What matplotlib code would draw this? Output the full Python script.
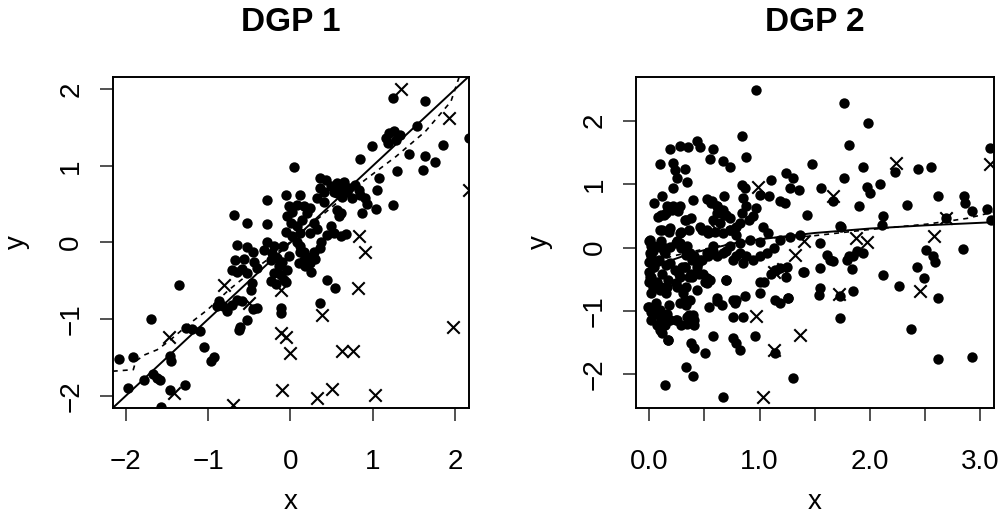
import numpy as np
import matplotlib
matplotlib.use("Agg")
import matplotlib.pyplot as plt

plt.rcParams['font.family'] = ['Liberation Sans', 'DejaVu Sans']

# ---- DGP 1 ----
dgp1_dot_x = [1.24, 1.63, 2.17, 1.54, 1.20, 1.26, 1.33, 1.16, 1.18, 1.28, 0.99, 1.85, 1.44, 1.64, 1.76,
              1.61, 0.85, 1.30, 1.08, 0.04, 0.36, 0.43, 0.49, 0.57, 0.65, 0.71, 0.79, 0.83, 0.36, 0.41,
              0.57, 0.63, 0.69, 0.75, 0.85, 0.91, 0.93, 1.05, 1.04, 1.24, -0.28, -0.05, 0.12, -0.02, 0.08,
              0.16, 0.24, 0.20, 0.32, 0.41, 0.57, 0.59, 0.61, 0.87, 0.49, -0.04, 0.01, 0.08, 0.14, -0.69,
              -0.53, -0.28, 0.45, 0.53, 0.62, 0.68, -0.06, 0.02, 0.08, 0.12, 0.16, 0.20, 0.28, 0.36, 0.37,
              -0.65, -0.53, -0.45, -0.32, -0.20, -0.09, -0.67, -0.71, -0.65, -0.59, -0.57, -0.44, -0.41, -0.53, -0.24,
              -0.16, -0.10, -0.02, -0.20, -0.12, -0.08, -0.24, -0.17, -0.06, 0.16, 0.18, 0.25, 0.30, 0.45, 0.54,
              -1.35, -0.47, -0.48, -0.87, -0.82, -0.77, -0.89, -0.71, -0.65, -0.59, -0.45, -0.41, -0.12, -0.12, 0.36,
              -1.70, -0.53, -0.61, -0.63, -1.27, -1.20, -1.10, -1.05, -0.97, -0.93, -1.46, -1.45, -1.91, -2.08, -1.67,
              -1.62, -1.58, -1.78, -1.97, -1.47, -1.28, -1.57, 0.02, 0.28, 0.32, 0.24, 0.12, -0.28, 0.10, 0.24,
              0.12, -0.22, -0.14, -0.04, 0.53, 0.61]
dgp1_dot_y = [1.88, 1.85, 1.36, 1.52, 1.43, 1.46, 1.40, 1.36, 1.30, 1.34, 1.26, 1.27, 1.15, 1.13, 1.05,
              0.95, 1.09, 0.93, 0.84, 0.99, 0.84, 0.81, 0.74, 0.77, 0.79, 0.71, 0.75, 0.69, 0.71, 0.66,
              0.64, 0.60, 0.66, 0.58, 0.62, 0.58, 0.50, 0.69, 0.44, 0.49, 0.56, 0.62, 0.62, 0.47, 0.49,
              0.47, 0.45, 0.38, 0.58, 0.53, 0.43, 0.34, 0.39, 0.38, 0.21, 0.34, 0.25, 0.21, 0.30, 0.36,
              0.26, 0.24, 0.10, 0.12, 0.09, 0.11, 0.14, 0.08, 0.01, -0.05, -0.12, -0.19, -0.12, -0.07, 0.00,
              -0.03, -0.06, -0.12, -0.10, -0.04, -0.04, -0.23, -0.36, -0.38, -0.35, -0.21, -0.25, -0.33, -0.40, -0.23,
              -0.20, -0.25, -0.18, -0.40, -0.42, -0.49, -0.50, -0.54, -0.51, -0.23, -0.31, -0.39, -0.22, -0.49, -0.59,
              -0.56, -0.53, -0.62, -0.76, -0.83, -0.90, -0.83, -0.81, -0.75, -0.77, -0.87, -0.86, -0.86, -0.92, -0.79,
              -1.00, -1.01, -1.10, -1.14, -1.12, -1.13, -1.16, -1.36, -1.55, -1.50, -1.48, -1.55, -1.50, -1.52, -1.71,
              -1.77, -1.79, -1.80, -1.90, -1.92, -1.86, -2.15, 0.40, 0.25, 0.17, 0.12, 0.12, 0.01, -0.27, -0.27,
              -0.12, -0.14, -0.31, -0.36, 0.66, 0.69]
dgp1_cross_x = [1.34, 1.93, 2.17, 0.83, 0.91, 0.82, -0.81, -0.12, -0.51, 0.38, -1.48, -0.12, -0.06, 1.97,
                0.00, 0.63, 0.76, -1.42, -0.10, 0.32, 0.51, 1.03, -0.70]
dgp1_cross_y = [2.00, 1.63, 0.69, 0.08, -0.13, -0.60, -0.56, -0.62, -0.79, -0.94, -1.24, -1.18, -1.23, -1.10,
                -1.44, -1.41, -1.41, -1.96, -1.93, -2.03, -1.91, -1.99, -2.12]
dgp1_true_x = [-2.16, 2.17]
dgp1_true_y = [-2.16, 2.17]
dgp1_fit_x = [-2.16, -1.91, -1.88, -1.78, -1.62, -1.48, -1.24, -1.01, -0.75, -0.45, -0.10, 0.30, 0.60,
              0.91, 1.28, 1.64, 1.95, 2.05]
dgp1_fit_y = [-1.68, -1.66, -1.55, -1.47, -1.40, -1.29, -1.07, -0.88, -0.62, -0.36, -0.08, 0.28, 0.55,
              0.82, 1.12, 1.45, 1.84, 2.16]

# ---- DGP 2 ----
dgp2_dot_x = [0.97, 1.77, 1.98, 0.84, 1.81, 3.09, 0.10, 0.19, 0.28, 0.35, 0.43, 0.46, 0.58, 0.55, 0.67,
              0.73, 0.88, 0.22, 0.23, 0.32, 0.25, 0.34, 0.22, 0.12, 0.04, 1.48, 1.24, 1.10, 1.30, 2.23,
              2.44, 2.55, 1.94, 1.77, 2.09, 1.97, 2.00, 1.56, 1.67, 0.84, 0.87, 1.00, 1.09, 1.28, 1.36,
              2.85, 2.86, 2.62, 2.34, 1.90, 1.43, 3.06, 2.93, 3.10, 2.69, 2.12, 2.11, 1.74, 1.19, 1.23,
              0.40, 0.68, 0.52, 0.57, 0.61, 0.67, 0.70, 0.85, 0.88, 0.84, 0.90, 0.94, 0.97, 1.03, 0.08,
              0.13, 0.16, 0.22, 0.28, 0.32, 0.38, 0.10, 0.19, 0.28, 0.25, 0.46, 0.52, 0.60, 0.64, 0.73,
              0.79, 0.82, 0.91, 1.00, 1.08, 1.19, 1.28, 1.37, 1.55, 0.01, 0.04, 0.01, 0.02, 0.04, 0.10,
              0.13, 0.19, 0.28, 0.34, 0.37, 0.41, 0.46, 0.52, 0.58, 0.61, 0.70, 0.76, 0.82, 0.88, 0.94,
              1.00, 1.07, 1.13, 0.19, 0.23, 0.28, 0.32, 0.38, 0.43, 0.49, 0.55, 0.70, 0.01, 0.07, 0.10,
              0.02, 0.16, 0.25, 0.31, 0.37, 0.43, 0.52, -0.01, 0.04, 0.10, 0.16, 0.19, 0.13, 0.10, 0.17,
              0.02, 0.07, 0.25, 0.34, 0.40, 0.41, 0.34, 0.28, 0.32, 0.38, 0.41, 0.51, 0.33, 0.40, 0.14,
              0.67, 0.58, 0.54, 0.61, 0.66, 0.76, 0.78, 0.87, 0.76, 0.85, 0.76, 0.82, 0.79, 0.96, 1.00,
              1.04, 1.10, 1.14, 1.19, 1.25, 1.14, 1.19, 1.26, 1.24, 1.40, 1.14, 1.30, 1.55, 1.61, 1.64,
              1.67, 1.55, 1.54, 1.73, 1.73, 1.79, 1.81, 1.85, 1.84, 1.85, 1.88, 1.94, 2.12, 2.26, 2.37,
              2.43, 2.49, 2.51, 2.57, 2.59, 2.62, 2.62, 2.93, 2.84, 1.73, 0.21, 0.26, 0.15, 0.11, 0.33,
              0.56, 0.61, 0.65, 0.68, 0.73, 0.61, 0.58, 0.12, 0.18, 0.29, 0.36, 0.48, 0.53, 0.67, 0.73,
              0.79, 0.00, 0.02, 0.03, 0.02, 0.00, 0.03, 0.00, 0.02, 0.00, 0.03, 0.11, 0.12, 0.14, 0.09,
              0.15, 0.12, 0.17, 0.11, 0.15, 0.24, 0.29, 0.33, 0.39, 0.44, 0.48, 0.53, 0.58, 0.32, 0.27,
              0.36, 0.45, 0.52, 0.67, 0.73, 0.79, 0.82, 0.85, 0.70, 0.61, 0.79, 0.06, 0.18, 0.00, 0.02,
              0.06, 0.09, 0.11, 0.14, 0.12, 0.17, 0.18, 0.24, 0.29, 0.33, 0.41, 0.36, 0.24, 0.33, 0.39,
              0.51, 0.30, 1.39, 1.00, 1.26]
dgp2_dot_y = [2.49, 2.28, 1.96, 1.76, 1.61, 1.57, 1.32, 1.55, 1.60, 1.59, 1.68, 1.59, 1.55, 1.39, 1.36,
              1.27, 1.43, 1.33, 1.23, 1.24, 1.10, 1.03, 0.94, 0.82, 0.70, 1.32, 1.17, 1.06, 1.10, 1.19,
              1.24, 1.27, 1.27, 1.10, 1.01, 0.96, 0.86, 0.94, 0.73, 0.99, 0.94, 0.83, 0.81, 0.94, 0.90,
              0.81, 0.70, 0.81, 0.67, 0.65, 0.52, 0.61, 0.57, 0.44, 0.46, 0.50, 0.36, 0.33, 0.73, 0.70,
              0.75, 0.82, 0.76, 0.73, 0.65, 0.60, 0.52, 0.78, 0.65, 0.54, 0.44, 0.49, 0.62, 0.32, 0.48,
              0.52, 0.66, 0.65, 0.65, 0.44, 0.46, 0.28, 0.31, 0.23, 0.10, 0.33, 0.28, 0.25, 0.38, 0.28,
              0.20, 0.38, 0.12, 0.08, 0.23, 0.12, 0.17, 0.20, 0.07, 0.12, 0.02, -0.09, -0.20, -0.30, 0.01,
              -0.06, 0.01, 0.07, 0.02, -0.09, -0.14, -0.20, -0.09, 0.02, -0.14, -0.06, -0.20, -0.09, -0.14, -0.20,
              -0.14, -0.09, -0.01, -0.25, -0.35, -0.46, -0.30, -0.41, -0.30, -0.41, -0.51, -0.51, -0.46, -0.54, -0.67,
              -0.72, -0.62, -0.62, -0.72, -0.83, -0.67, -0.56, -0.93, -1.04, -0.99, -1.04, -1.14, -1.22, -1.30, -1.46,
              -1.14, -1.22, -1.14, -1.09, -1.06, -1.22, -1.20, -0.88, -0.83, -1.51, -1.59, -1.66, -1.88, -2.03, -2.16,
              -2.35, -1.40, -0.93, -0.85, -0.91, -0.82, -0.88, -0.77, -1.09, -1.10, -1.43, -1.61, -1.51, -1.40, -0.72,
              -0.54, -0.41, -0.35, -0.33, -0.30, -0.83, -0.87, -0.79, -0.46, -0.38, -1.66, -2.06, -0.33, -0.12, -0.20,
              -0.21, -0.64, -0.75, -0.76, -1.11, -0.20, -0.14, -0.14, -0.34, -0.68, -0.06, -0.08, -0.43, -0.60, -1.28,
              -0.31, -0.48, -0.04, -0.14, -0.22, -0.79, -1.76, -1.72, -0.03, 0.34, 0.60, 0.57, 0.54, 0.52, 0.44,
              0.70, 0.65, 0.57, 0.52, 0.46, 0.54, 0.44, 0.28, 0.25, 0.25, 0.28, 0.28, 0.23, 0.23, 0.28,
              0.33, 0.10, 0.02, -0.06, -0.14, -0.22, -0.30, -0.38, -0.46, -0.54, -0.62, 0.10, 0.02, -0.09, -0.20,
              -0.27, -0.41, -0.51, -0.62, -0.72, 0.07, -0.01, -0.12, -0.20, -0.25, -0.20, -0.14, -0.06, -0.30, -0.41,
              -0.46, -0.41, -0.48, -0.09, 0.02, -0.14, 0.07, -0.25, -0.51, -0.80, -0.83, -0.88, -0.91, -0.93, -1.01,
              -0.96, -1.06, -1.14, -1.22, -1.35, -1.46, -1.14, -1.14, -1.22, -0.91, -1.14, -1.06, -0.56, -0.62, -0.46,
              -0.54, -0.30, -0.38, -0.54, -0.79]
dgp2_cross_x = [0.99, 1.67, 2.24, 3.09, 2.69, 2.58, 1.87, 1.97, 1.40, 1.32, 1.13, 1.21, 0.97, 1.37, 1.13,
                1.03, 1.72, 2.45, 0.61]
dgp2_cross_y = [0.95, 0.81, 1.34, 1.32, 0.46, 0.18, 0.15, 0.08, 0.10, -0.12, -0.38, -0.34, -1.08, -1.38, -1.62,
                -2.36, -0.74, -0.69, 0.27]
dgp2_true_x = [0.00, 0.10, 0.20, 0.35, 0.50, 0.75, 1.00, 1.50, 2.00, 2.50, 3.12]
dgp2_true_y = [-0.36, -0.28, -0.20, -0.11, -0.04, 0.06, 0.13, 0.23, 0.30, 0.35, 0.40]
dgp2_fit_x = [0.00, 0.07, 0.20, 0.40, 0.76, 1.07, 1.46, 1.97, 2.52, 2.88, 3.12]
dgp2_fit_y = [-0.32, -0.22, -0.14, -0.06, 0.07, 0.15, 0.18, 0.28, 0.37, 0.46, 0.56]

panels = [
    ("DGP 1", dgp1_dot_x, dgp1_dot_y, dgp1_cross_x, dgp1_cross_y, dgp1_true_x, dgp1_true_y,
     dgp1_fit_x, dgp1_fit_y),
    ("DGP 2", dgp2_dot_x, dgp2_dot_y, dgp2_cross_x, dgp2_cross_y, dgp2_true_x, dgp2_true_y,
     dgp2_fit_x, dgp2_fit_y),
]

fig = plt.figure(figsize=(10.02, 5.15), dpi=100)
ax1 = fig.add_axes([0.1125, 0.2078, 0.3556, 0.6427])
ax2 = fig.add_axes([0.6347, 0.2078, 0.3573, 0.6427])
axes = [ax1, ax2]

for ax, (title, dx, dy, cx, cy, tx, ty, fx, fy) in zip(axes, panels):
    ax.scatter(dx, dy, s=56, c='black', marker='o', linewidths=0, zorder=3)
    ax.scatter(cx, cy, s=80, c='black', marker='x', linewidths=1.5, zorder=3)
    ax.plot(tx, ty, color='black', lw=1.4, zorder=4)
    ax.plot(fx, fy, color='black', lw=1.2, ls=(0, (3, 3)), zorder=4)
    for sp in ax.spines.values():
        sp.set_linewidth(1.4)
    ax.tick_params(length=9.5, width=1.2, color='#333333', labelsize=20)
    ax.tick_params(axis='x', pad=20)
    ax.tick_params(axis='y', pad=11, labelrotation=90)

ax1.set_xlim(-2.16, 2.17)
ax1.set_ylim(-2.16, 2.16)
ax1.set_xticks([-2, -1, 0, 1, 2])
ax1.set_xticklabels(['\u22122', '\u22121', '0', '1', '2'])
ax1.set_yticks([-2, -1, 0, 1, 2])
ax1.set_yticklabels(['\u22122', '\u22121', '0', '1', '2'], va='center')

ax2.set_xlim(-0.12, 3.125)
ax2.set_ylim(-2.53, 2.69)
ax2.set_xticks([0, 0.5, 1.0, 1.5, 2.0, 2.5, 3.0])
ax2.set_xticklabels(['0.0', '', '1.0', '', '2.0', '', '3.0'])
ax2.set_yticks([-2, -1, 0, 1, 2])
ax2.set_yticklabels(['\u22122', '\u22121', '0', '1', '2'], va='center')

fig.text(0.2904, 0.957, "DGP 1", ha='center', va='center', fontsize=24, fontweight='bold')
fig.text(0.8134, 0.957, "DGP 2", ha='center', va='center', fontsize=24, fontweight='bold')
fig.text(0.2904, 0.025, "x", ha='center', va='center', fontsize=20)
fig.text(0.8134, 0.025, "x", ha='center', va='center', fontsize=20)
fig.text(0.017, 0.53, "y", ha='center', va='center', fontsize=20, rotation=90)
fig.text(0.539, 0.53, "y", ha='center', va='center', fontsize=20, rotation=90)

fig.savefig("out.png", dpi=100)
